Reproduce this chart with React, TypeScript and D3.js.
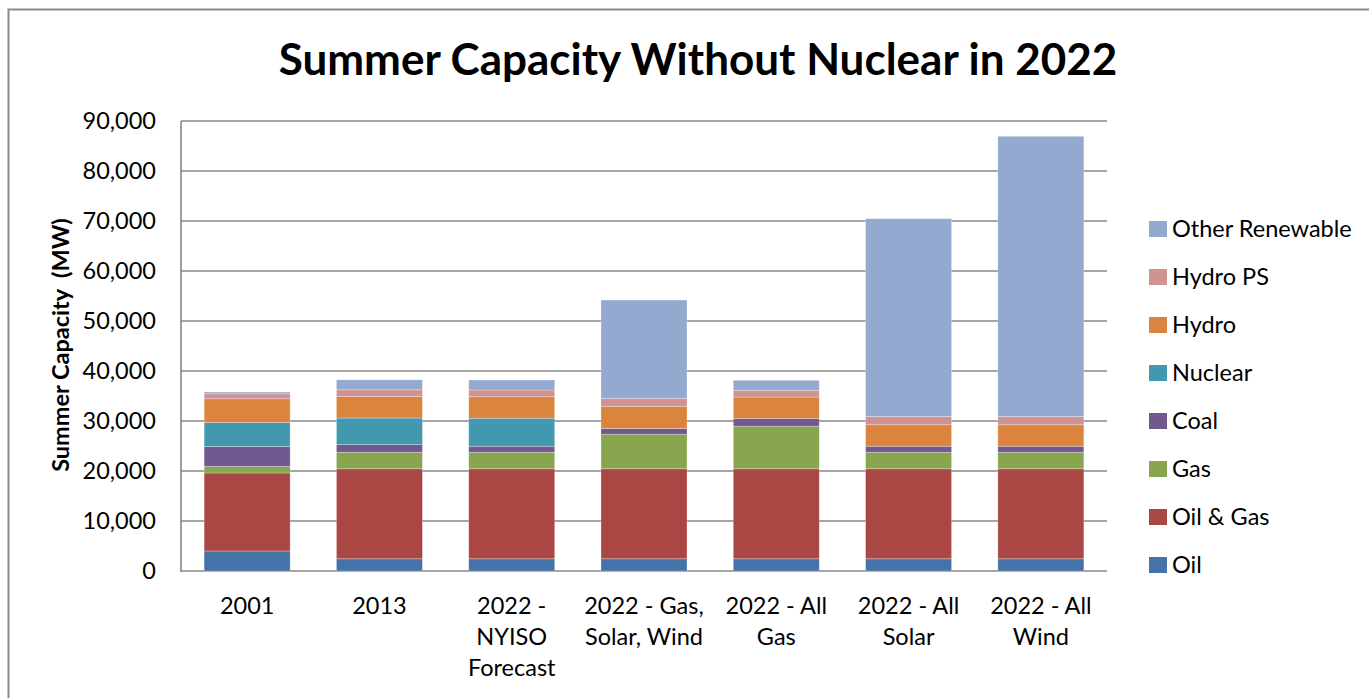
import React from "react";
import * as d3 from "d3";

const categories = [
  ["2001"],
  ["2013"],
  ["2022 -", "NYISO", "Forecast"],
  ["2022 - Gas,", "Solar, Wind"],
  ["2022 - All", "Gas"],
  ["2022 - All", "Solar"],
  ["2022 - All", "Wind"],
];
const seriesNames = ["Oil", "Oil & Gas", "Gas", "Coal", "Nuclear", "Hydro", "Hydro PS", "Other Renewable"];
const oil = [4000, 2450, 2450, 2450, 2450, 2450, 2450];
const oilGas = [15600, 18000, 18000, 18000, 18000, 18000, 18000];
const gas = [1300, 3300, 3300, 6900, 8500, 3300, 3300];
const coal = [4000, 1540, 1200, 1140, 1540, 1200, 1200];
const nuclear = [4800, 5300, 5600, 0, 0, 0, 0];
const hydro = [4750, 4300, 4300, 4400, 4300, 4300, 4300];
const hydroPS = [1000, 1350, 1350, 1600, 1350, 1650, 1650];
const otherRenewable = [350, 2000, 2000, 19700, 2000, 39560, 56040];
const yTicks = [0, 10000, 20000, 30000, 40000, 50000, 60000, 70000, 80000, 90000];

const colors = ["#4572A7", "#AA4643", "#89A54E", "#71588F", "#4198AF", "#DB843D", "#D09391", "#93A9CF"];

export default function App() {
  const seriesValues = [oil, oilGas, gas, coal, nuclear, hydro, hydroPS, otherRenewable];
  const keys = categories.map((c) => c.join(" "));
  const rows = keys.map((k, i) => {
    const r: any = { key: k };
    seriesNames.forEach((s, j) => (r[s] = seriesValues[j][i]));
    return r;
  });
  const stacked = d3.stack().keys(seriesNames)(rows);

  const left = 181, right = 1107, top = 121, bottom = 571;
  const x = d3.scaleBand().domain(keys).range([left, right]).paddingInner(0.35).paddingOuter(0.175);
  const y = d3.scaleLinear().domain([0, 90000]).range([bottom, top]);
  const fmt = d3.format(",");
  const font = "Lato, 'Noto Sans', sans-serif";

  return (
    <svg width={1369} height={698} style={{ position: "absolute", left: 0, top: 0, fontFamily: font }}>
      <rect x={0} y={0} width={1369} height={698} fill="#fff" />
      <path d="M8.5,698 L8.5,9.5 L1369,9.5" fill="none" stroke="#8a8a8a" strokeWidth={2} />
      <text x={698} y={75} textAnchor="middle" fontSize={44} fontWeight="bold" fill="#000">
        Summer Capacity Without Nuclear in 2022
      </text>
      {yTicks.map((t) => (
        <g key={t}>
          <line x1={left} x2={right} y1={y(t)} y2={y(t)} stroke="#878787" strokeWidth={1.6} />
          <text x={156} y={y(t)} dy="0.35em" textAnchor="end" fontSize={23.5} fill="#000">
            {fmt(t)}
          </text>
        </g>
      ))}
      <line x1={left} x2={left} y1={top} y2={bottom + 1} stroke="#878787" strokeWidth={1.6} />
      <text
        transform={`translate(69,345) rotate(-90)`}
        textAnchor="middle"
        fontSize={23.5}
        fontWeight="bold"
        fill="#000"
      >
        {"Summer Capacity\u00a0 (MW)"}
      </text>
      {stacked.map((s, j) => (
        <g key={s.key} fill={colors[j]}>
          {s.map((d, i) =>
            d[1] - d[0] > 0 ? (
              <rect
                key={i}
                x={x(keys[i])}
                width={x.bandwidth()}
                y={y(d[1])}
                height={y(d[0]) - y(d[1])}
                stroke="rgba(255,255,255,0.35)"
                strokeWidth={0.8}
              />
            ) : null
          )}
        </g>
      ))}
      {categories.map((c, i) => (
        <text key={i} textAnchor="middle" fontSize={23.5} fill="#000">
          {c.map((line, k) => (
            <tspan key={k} x={(x(keys[i]) as number) + x.bandwidth() / 2} y={614 + k * 31}>
              {line}
            </tspan>
          ))}
        </text>
      ))}
      {seriesNames
        .slice()
        .reverse()
        .map((s, k) => {
          const cy = 229 + k * 48;
          const col = colors[seriesNames.indexOf(s)];
          return (
            <g key={s}>
              <rect x={1149} y={cy - 8} width={18} height={16} fill={col} />
              <text x={1172} y={cy} dy="0.36em" fontSize={23.5} fill="#000">
                {s}
              </text>
            </g>
          );
        })}
    </svg>
  );
}
